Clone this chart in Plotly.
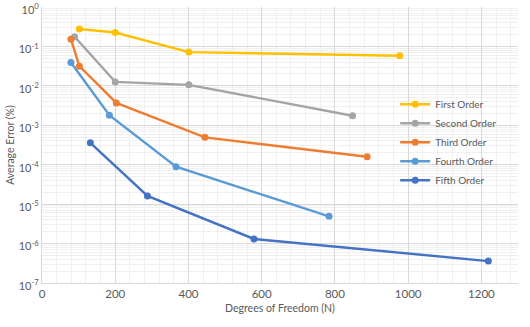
import plotly.graph_objects as go

series_names = ["First Order", "Second Order", "Third Order", "Fourth Order", "Fifth Order"]
series_colors = ["#FFC000", "#A5A5A5", "#ED7D31", "#5B9BD5", "#4472C4"]

first_x = [102, 200, 401, 977]
first_y = [0.276, 0.226, 0.0718, 0.0578]
second_x = [89, 200, 401, 848]
second_y = [0.176, 0.0126, 0.0106, 0.00175]
third_x = [79, 102, 203, 445, 888]
third_y = [0.153, 0.0316, 0.00369, 0.000494, 0.000159]
fourth_x = [79, 184, 366, 784]
fourth_y = [0.039, 0.0018, 8.9e-5, 4.9e-6]
fifth_x = [132, 288, 579, 1219]
fifth_y = [3.6e-4, 1.62e-5, 1.31e-6, 3.6e-7]

xs = [first_x, second_x, third_x, fourth_x, fifth_x]
ys = [first_y, second_y, third_y, fourth_y, fifth_y]

y_tickvals = [1e-7, 1e-6, 1e-5, 1e-4, 1e-3, 1e-2, 1e-1, 1e0]
y_ticktext = ["10<sup>-7</sup>", "10<sup>-6</sup>", "10<sup>-5</sup>", "10<sup>-4</sup>",
              "10<sup>-3</sup>", "10<sup>-2</sup>", "10<sup>-1</sup>", "10<sup>0</sup>"]
x_tickvals = [0, 200, 400, 600, 800, 1000, 1200]

font_family = "Lato, Open Sans, sans-serif"
txt = "#595959"

fig = go.Figure()
for name, col, x, y in zip(series_names, series_colors, xs, ys):
    fig.add_trace(go.Scatter(x=x, y=y, mode="lines+markers", name=name,
                             line=dict(color=col, width=2.4),
                             marker=dict(color=col, size=7)))

fig.update_layout(
    width=530, height=327,
    margin=dict(l=42, r=12, t=7, b=44, autoexpand=False),
    paper_bgcolor="white", plot_bgcolor="white",
    font=dict(family=font_family, size=10, color=txt),
    legend=dict(x=0.742, y=0.70, xanchor="left", yanchor="top",
                bgcolor="rgba(0,0,0,0)", font=dict(size=10, color=txt)),
    xaxis=dict(range=[0, 1300], tickvals=x_tickvals, showgrid=True, automargin=False,
               gridcolor="#D9D9D9", gridwidth=1, zeroline=False,
               showline=True, linecolor="#D9D9D9", ticks="",
               minor=dict(dtick=40, showgrid=True, gridcolor="#F0F0F0"),
               title=dict(text="Degrees of Freedom (N)", font=dict(size=10.5, color=txt), standoff=5),
               tickfont=dict(size=11.5, color=txt)),
    yaxis=dict(type="log", range=[-7, 0], tickvals=y_tickvals, ticktext=y_ticktext,
               ticklabeloverflow="allow", automargin=False, ticklabelshift=3,
               showgrid=True, gridcolor="#D9D9D9", gridwidth=1, zeroline=False,
               showline=True, linecolor="#D9D9D9", ticks="",
               minor=dict(dtick="D1", showgrid=True, gridcolor="#F0F0F0"),
               title=dict(text="Average Error (%)", font=dict(size=10.5, color=txt), standoff=2),
               tickfont=dict(size=11, color=txt)),
)

fig.write_html("out.html")
